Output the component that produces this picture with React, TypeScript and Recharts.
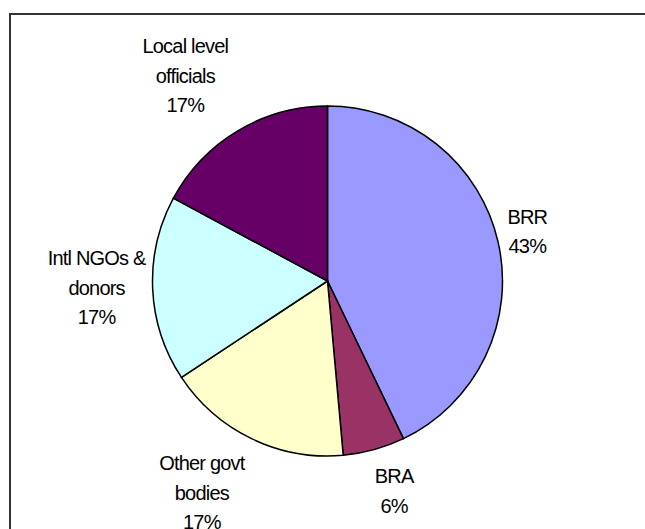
import { PieChart, Pie, Cell } from "recharts";

// respondents by organisation type (35 in total)
const categories = [
  "BRR",
  "BRA",
  "Other govt\nbodies",
  "Intl NGOs &\ndonors",
  "Local level\nofficials",
];
const counts = [15, 2, 6, 6, 6];
const colors = ["#9999FF", "#993366", "#FFFFCC", "#CCFFFF", "#660066"];

// where each label block sits: distance from centre and a small angle nudge
const labelRadius = [206, 220, 246, 231, 250];
const labelAngleShift = [1.2, 2.2, -5, -1, 3.8];

const RADIAN = Math.PI / 180;
const LINE_GAP = 29.5;

const chartData = categories.map((name, i) => ({ name, value: counts[i] }));

function renderLabel(props: any) {
  const { cx, cy, midAngle, index, percent } = props;
  const angle = (midAngle + labelAngleShift[index]) * RADIAN;
  const r = labelRadius[index];
  const x = cx + r * Math.cos(-angle);
  const y = cy + r * Math.sin(-angle);

  const lines = [...categories[index].split("\n"), `${Math.round(percent * 100)}%`];
  // put the visual centre of the block on (x, y)
  const firstBaseline = y + 7.5 - ((lines.length - 1) * LINE_GAP) / 2;

  return (
    <text
      x={x}
      y={firstBaseline}
      textAnchor="middle"
      fill="#000"
      fontSize={20}
      letterSpacing={-0.8}
      fontFamily="'Liberation Sans', Arial, sans-serif"
    >
      {lines.map((line, i) => (
        <tspan key={i} x={x} y={firstBaseline + i * LINE_GAP}>
          {line}
        </tspan>
      ))}
    </text>
  );
}

export default function App() {
  return (
    <div
      style={{
        position: "absolute",
        left: 0,
        top: 0,
        width: 645,
        height: 529,
        overflow: "hidden",
        background: "#fff",
      }}
    >
      <div
        style={{
          position: "absolute",
          left: 9,
          top: 13,
          width: 700,
          height: 600,
          border: "2px solid #333",
        }}
      />
      <div style={{ position: "absolute", left: 0, top: 0 }}>
        <PieChart width={645} height={529} margin={{ top: 0, right: 0, bottom: 0, left: 0 }}>
          <Pie
            data={chartData}
            dataKey="value"
            nameKey="name"
            cx={327.5}
            cy={281}
            outerRadius={175}
            startAngle={90}
            endAngle={-270}
            stroke="#000"
            strokeWidth={1.5}
            label={renderLabel}
            labelLine={false}
            isAnimationActive={false}
          >
            {chartData.map((d, i) => (
              <Cell key={d.name} fill={colors[i]} />
            ))}
          </Pie>
        </PieChart>
      </div>
    </div>
  );
}
